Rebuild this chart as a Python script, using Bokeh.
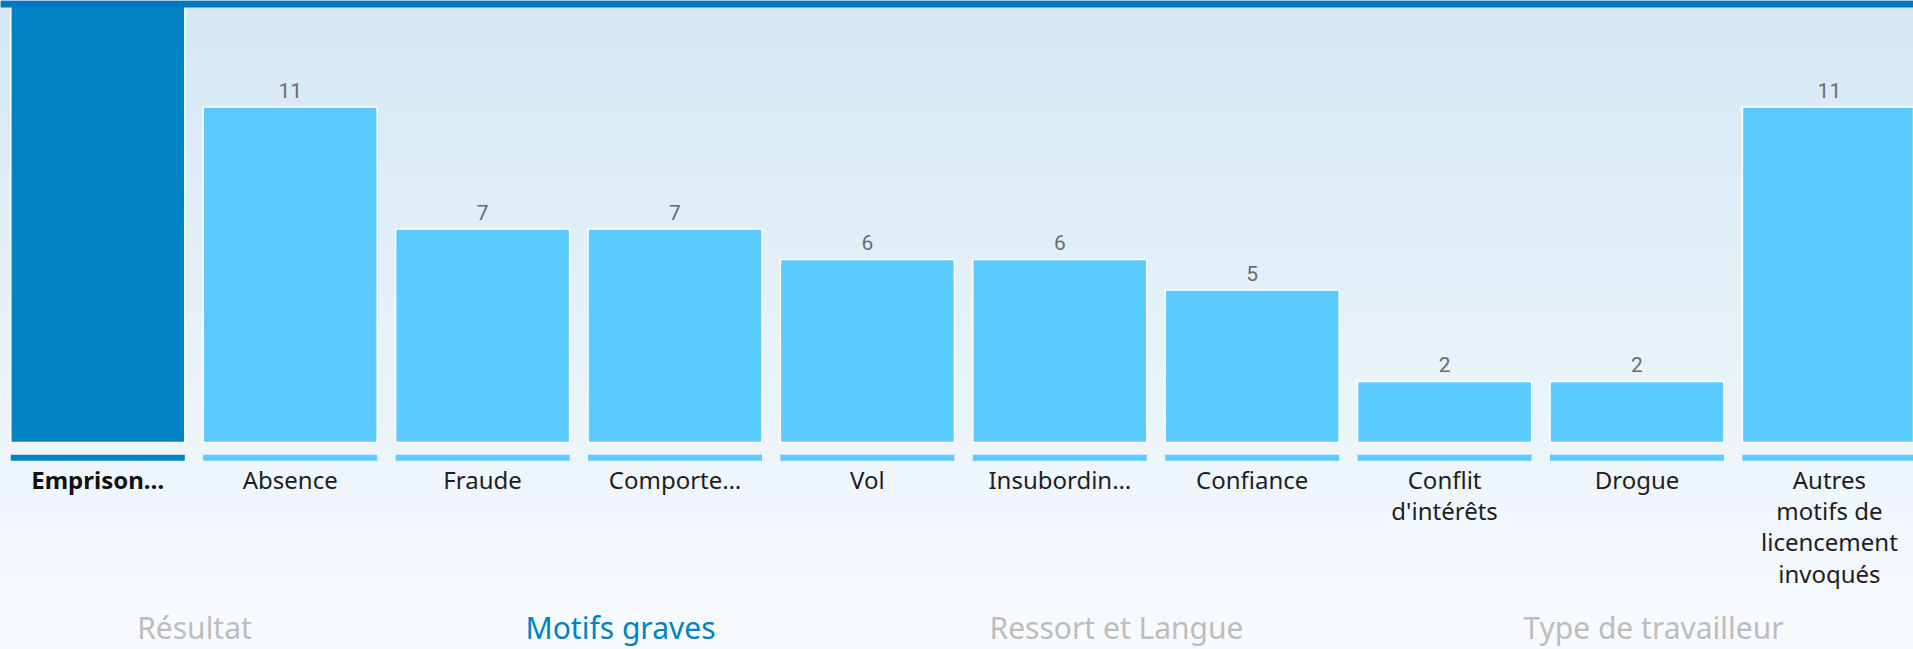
from bokeh.plotting import figure
from bokeh.models import ColumnDataSource, Range1d, BoxAnnotation
from bokeh.core.properties import value
from bokeh.embed import file_html
from bokeh.resources import INLINE

# ---- data ----
categories = ["Emprison…", "Absence", "Fraude", "Comporte…", "Vol", "Insubordin…",
              "Confiance", "Conflit\nd'intérêts", "Drogue",
              "Autres\nmotifs de\nlicencement\ninvoqués"]
counts = [17, 11, 7, 7, 6, 6, 5, 2, 2, 11]
selected = [True, False, False, False, False, False, False, False, False, False]
tabs = ["Résultat", "Motifs graves", "Ressort et Langue", "Type de travailleur"]
active_tab = [False, True, False, False]

# ---- geometry (pixels) ----
W, H = 1913, 649
PITCH = 192.4          # px per category
X0 = 97.3              # px of first category centre
BASE = 442.0           # px of value 0
UNIT = 30.5            # px per unit

def ydat(py):
    return (BASE - py) / UNIT

def xdat(px):
    return (px - X0) / PITCH

DARK = "#0082C6"
LIGHT = "#5BCAFF"

idx = list(range(len(categories)))
src = ColumnDataSource(dict(
    x=idx,
    top=counts,
    # the selected bar runs off the top of the view, so its count is not shown
    label=["" if s else str(c) for c, s in zip(counts, selected)],
    cat=categories,
    color=[DARK if s else LIGHT for s in selected],
    tcolor=["#111111" if s else "#1e1e1e" for s in selected],
    tstyle=["bold" if s else "normal" for s in selected],
))

p = figure(width=W, height=H, output_backend="svg", toolbar_location=None,
           x_range=Range1d(xdat(0), xdat(W)), y_range=Range1d(ydat(H), ydat(0)),
           min_border=0, min_border_left=0, min_border_right=0,
           min_border_top=0, min_border_bottom=0)
p.axis.visible = False
p.grid.visible = False
p.outline_line_color = None
p.background_fill_color = None
p.border_fill_color = None
p.styles = {"background-image": "linear-gradient(to bottom, #D3E8F4 0%, #E6F1F9 50%, #F8FBFE 100%)"}

bw = 174 / PITCH
# bars
p.vbar(x="x", top="top", bottom=0, width=bw, source=src,
       fill_color="color", line_color="white", line_width=1.5)
# strips under bars
p.vbar(x="x", top=ydat(454.3), bottom=ydat(460.3), width=bw, source=src,
       fill_color="color", line_color=None)
# value labels
p.text(x="x", y="top", text="label", source=src, y_offset=-17,
       text_align="center", text_baseline="middle",
       text_font=value("Roboto"), text_font_size="21px", text_color="#6b6b6b")
# category labels
p.text(x="x", y=ydat(462), text="cat", source=src,
       text_align="center", text_baseline="top", text_line_height=0.95,
       text_font=value("Noto Sans"), text_font_size="24px",
       text_color="tcolor", text_font_style="tstyle")

# top strip
p.add_layout(BoxAnnotation(bottom=ydat(7), top=ydat(0), fill_color="#0078C1",
                           fill_alpha=1, line_color=None, level="overlay"))

# tabs
tab_px = [194, 620, 1116, 1653]
tsrc = ColumnDataSource(dict(
    x=[xdat(t) for t in tab_px], y=[ydat(606)] * 4, text=tabs,
    color=[DARK if a else "#bdbdbd" for a in active_tab]))
p.text(x="x", y="y", text="text", source=tsrc, text_align="center",
       text_baseline="top", text_font=value("Noto Sans"),
       text_font_size="30px", text_color="color")

open("out.html", "w").write(file_html(p, INLINE))
